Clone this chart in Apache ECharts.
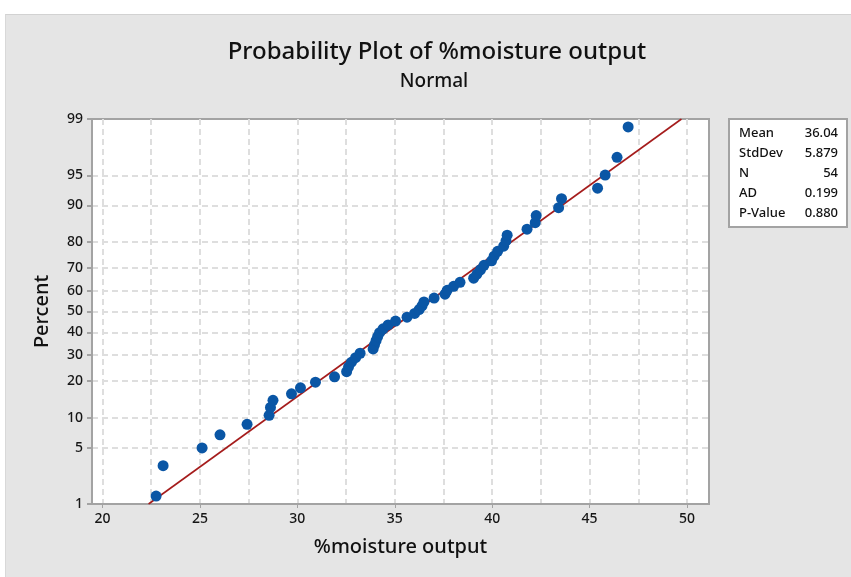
<!DOCTYPE html>
<html>
<head>
<meta charset="utf-8">
<script src="https://cdn.jsdelivr.net/npm/echarts@6/dist/echarts.min.js"></script>
<style>
  html, body { margin: 0; padding: 0; background: #ffffff; }
  #wrap { position: relative; width: 851px; height: 577px; overflow: hidden; }
  #panel { position: absolute; left: 5px; top: 14px; right: 0; bottom: 0;
           background: #e5e5e5; border-top: 1px solid #d2d2d2; border-left: 1px solid #d8d8d8; }
  #chart { position: absolute; left: 0; top: 0; width: 851px; height: 577px; }
</style>
</head>
<body>
<div id="wrap"><div id="panel"></div><div id="chart"></div></div>
<script>
// Sorted sample of %moisture output (n = 54)
const moisture = [
  22.75, 23.11, 25.11, 26.03, 27.42, 28.55, 28.62, 28.75, 29.70, 30.16,
  30.93, 31.91, 32.53, 32.63, 32.78, 32.99, 33.22, 33.89, 33.96, 34.04,
  34.12, 34.22, 34.40, 34.66, 35.04, 35.63, 36.02, 36.25, 36.40, 36.50,
  37.02, 37.58, 37.69, 38.02, 38.35, 39.05, 39.22, 39.40, 39.58, 39.97,
  40.10, 40.28, 40.59, 40.71, 40.77, 41.79, 42.21, 42.26, 43.41, 43.56,
  45.41, 45.80, 46.41, 46.98
];

// Percent axis ticks (normal probability scale)
const percentTicks = [1, 5, 10, 20, 30, 40, 50, 60, 70, 80, 90, 95, 99];
// x axis labels and grid positions
const xLabelTicks = [20, 25, 30, 35, 40, 45, 50];
const xGridTicks = [20, 22.5, 25, 27.5, 30, 32.5, 35, 37.5, 40, 42.5, 45, 47.5, 50];

// Summary statistics shown in the side table
const statNames = ['Mean', 'StdDev', 'N', 'AD', 'P-Value'];
const statValues = ['36.04', '5.879', '54', '0.199', '0.880'];
const fitMean = 36.04;
const fitSd = 5.879;

// Inverse standard normal CDF (Acklam's rational approximation)
function invNorm(p) {
  const a = [-3.969683028665376e+01, 2.209460984245205e+02, -2.759285104469687e+02,
             1.383577518672690e+02, -3.066479806614716e+01, 2.506628277459239e+00];
  const b = [-5.447609879822406e+01, 1.615858368580409e+02, -1.556989798598866e+02,
             6.680131188771972e+01, -1.328068155288572e+01];
  const c = [-7.784894002430293e-03, -3.223964580411365e-01, -2.400758277161838e+00,
             -2.549732539343734e+00, 4.374664141464968e+00, 2.938163982698783e+00];
  const d = [7.784695709041462e-03, 3.224671290700398e-01, 2.445134137142996e+00,
             3.754408661907416e+00];
  const pl = 0.02425, ph = 1 - pl;
  let q, r;
  if (p < pl) {
    q = Math.sqrt(-2 * Math.log(p));
    return (((((c[0]*q+c[1])*q+c[2])*q+c[3])*q+c[4])*q+c[5]) /
           ((((d[0]*q+d[1])*q+d[2])*q+d[3])*q+1);
  }
  if (p <= ph) {
    q = p - 0.5; r = q * q;
    return (((((a[0]*r+a[1])*r+a[2])*r+a[3])*r+a[4])*r+a[5])*q /
           (((((b[0]*r+b[1])*r+b[2])*r+b[3])*r+b[4])*r+1);
  }
  q = Math.sqrt(-2 * Math.log(1 - p));
  return -(((((c[0]*q+c[1])*q+c[2])*q+c[3])*q+c[4])*q+c[5]) /
          ((((d[0]*q+d[1])*q+d[2])*q+d[3])*q+1);
}

const n = moisture.length;
// Median-rank plotting positions, mapped to normal scores
const points = moisture.map((x, i) => [x, invNorm((i + 1 - 0.3) / (n + 0.4))]);

const zTicks = percentTicks.map(p => invNorm(p / 100));
const zMin = zTicks[0];
const zMax = zTicks[zTicks.length - 1];
// inner ticks only get dashed grid lines (1 and 99 sit on the frame)
const zGrid = zTicks.slice(1, -1);

// Fitted normal line across the full percent range
const fitLine = [
  [fitMean + fitSd * zMin, zMin],
  [fitMean + fitSd * zMax, zMax]
];

function percentLabel(v) {
  for (let i = 0; i < zTicks.length; i++) {
    if (Math.abs(zTicks[i] - v) < 1e-6) return String(percentTicks[i]);
  }
  return '';
}

const FONT = '"Noto Sans", "Open Sans", sans-serif';
const AXIS_GRAY = '#a3a3a3';
const GRID_GRAY = '#dedede';
const TEXT = '#111111';

const gridL = 92, gridT = 119, gridR = 709, gridB = 504;
const boxX = 729, boxY = 119, boxW = 118, boxH = 108;

const graphics = [
  { type: 'text', x: 437, y: 52, z: 10,
    style: { text: 'Probability Plot of %moisture output', font: '500 24px ' + FONT,
             fill: TEXT, textAlign: 'center', textVerticalAlign: 'middle' } },
  { type: 'text', x: 434, y: 82, z: 10,
    style: { text: 'Normal', font: '500 19px ' + FONT, fill: TEXT,
             textAlign: 'center', textVerticalAlign: 'middle' } },
  { type: 'rect', z: 10,
    shape: { x: boxX, y: boxY, width: boxW, height: boxH },
    style: { fill: '#ffffff', stroke: AXIS_GRAY, lineWidth: 2 } }
];
statNames.forEach((name, i) => {
  const y = boxY + 14 + i * 20;
  graphics.push({ type: 'text', x: boxX + 10, y: y, z: 11,
    style: { text: name, font: '500 13px ' + FONT, fill: TEXT,
             textAlign: 'left', textVerticalAlign: 'middle' } });
  graphics.push({ type: 'text', x: boxX + boxW - 9, y: y, z: 11,
    style: { text: statValues[i], font: '500 13px ' + FONT, fill: TEXT,
             textAlign: 'right', textVerticalAlign: 'middle' } });
});

const xMin = 19.46, xMax = 51.13;
const labelStyle = { fontFamily: FONT, fontSize: 14, fontWeight: 500, color: '#161616' };
const nameStyle = { fontFamily: FONT, fontSize: 20, fontWeight: 500, color: TEXT };

const option = {
  backgroundColor: 'transparent',
  animation: false,
  grid: {
    left: gridL, top: gridT, right: 851 - gridR, bottom: 577 - gridB,
    show: true, backgroundColor: '#ffffff', borderColor: AXIS_GRAY, borderWidth: 2,
    containLabel: false
  },
  xAxis: [
    {
      type: 'value', min: xMin, max: xMax, position: 'bottom',
      name: '%moisture output', nameLocation: 'middle', nameGap: 33,
      nameTextStyle: nameStyle,
      axisLine: { show: true, onZero: false, lineStyle: { color: AXIS_GRAY, width: 2 } },
      axisTick: { show: true, customValues: xLabelTicks, length: 4, lineStyle: { color: AXIS_GRAY, width: 1 } },
      axisLabel: Object.assign({ customValues: xLabelTicks, margin: 8 }, labelStyle),
      splitLine: { show: false }
    },
    {
      type: 'value', min: xMin, max: xMax, position: 'bottom',
      axisLine: { show: false },
      axisTick: { show: false, customValues: xGridTicks },
      axisLabel: { show: false },
      splitLine: { show: true, lineStyle: { type: [6, 4], color: GRID_GRAY, width: 2 } }
    }
  ],
  yAxis: [
    {
      type: 'value', min: zMin, max: zMax, position: 'left',
      name: 'Percent', nameLocation: 'middle', nameGap: 40,
      nameTextStyle: nameStyle,
      axisLine: { show: true, onZero: false, lineStyle: { color: AXIS_GRAY, width: 2 } },
      axisTick: { show: true, customValues: zTicks, length: 5, lineStyle: { color: AXIS_GRAY, width: 2 } },
      axisLabel: Object.assign({ customValues: zTicks, formatter: percentLabel, margin: 9 }, labelStyle),
      splitLine: { show: false }
    },
    {
      type: 'value', min: zMin, max: zMax, position: 'left',
      axisLine: { show: false },
      axisTick: { show: false, customValues: zGrid },
      axisLabel: { show: false },
      splitLine: { show: true, lineStyle: { type: [6, 4], color: GRID_GRAY, width: 2 } }
    }
  ],
  series: [
    {
      type: 'line', data: fitLine, xAxisIndex: 0, yAxisIndex: 0, symbol: 'none', clip: true, z: 3,
      lineStyle: { color: '#a51c1c', width: 1.6 }
    },
    {
      type: 'scatter', data: points, xAxisIndex: 0, yAxisIndex: 0, symbol: 'circle', symbolSize: 11, z: 4,
      itemStyle: { color: '#0a56a5', opacity: 1 }
    }
  ],
  graphic: graphics
};

const chart = echarts.init(document.getElementById('chart'), null, { renderer: 'canvas' });
chart.setOption(option);
</script>
</body>
</html>
